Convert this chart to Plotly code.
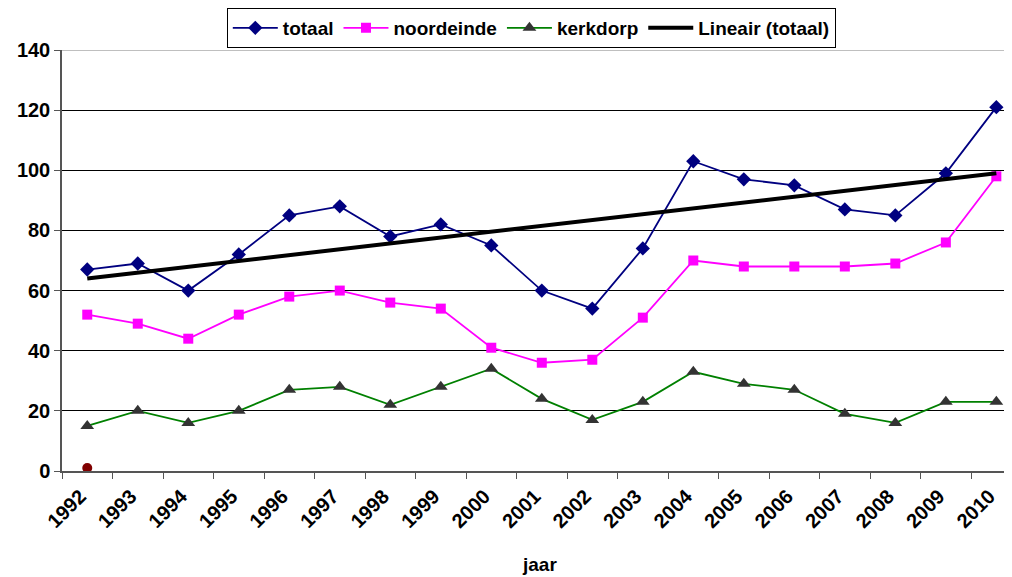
import plotly.graph_objects as go

years = [str(y) for y in range(1992, 2011)]
totaal = [67, 69, 60, 72, 85, 88, 78, 82, 75, 60, 54, 74, 103, 97, 95, 87, 85, 99, 121]
noordeinde = [52, 49, 44, 52, 58, 60, 56, 54, 41, 36, 37, 51, 70, 68, 68, 68, 69, 76, 98]
kerkdorp = [15, 20, 16, 20, 27, 28, 22, 28, 34, 24, 17, 23, 33, 29, 27, 19, 16, 23, 23]
trend_years = ["1992", "2010"]
trend_values = [64, 99]
extra_years = ["1992"]
extra_values = [1]

FONT = "Liberation Sans, Arial, sans-serif"

fig = go.Figure()
fig.add_trace(go.Scatter(x=years, y=totaal, name="<b>totaal</b>", mode="lines+markers",
                         line=dict(color="#000080", width=1.8),
                         marker=dict(symbol="diamond", size=11, color="#000080")))
fig.add_trace(go.Scatter(x=years, y=noordeinde, name="<b>noordeinde</b>", mode="lines+markers",
                         line=dict(color="#FF00FF", width=1.8),
                         marker=dict(symbol="square", size=10, color="#FF00FF")))
fig.add_trace(go.Scatter(x=years, y=kerkdorp, name="<b>kerkdorp</b>", mode="lines+markers",
                         line=dict(color="#008000", width=1.8),
                         marker=dict(symbol="triangle-up", size=12, color="#333333")))
fig.add_trace(go.Scatter(x=trend_years, y=trend_values, name="<b>Lineair (totaal)</b>", mode="lines",
                         line=dict(color="#000000", width=4)))
fig.add_trace(go.Scatter(x=extra_years, y=extra_values, mode="markers", showlegend=False,
                         marker=dict(symbol="circle", size=10, color="#800000")))

fig.update_layout(
    width=1004, height=569,
    margin=dict(l=54, r=0, t=42, b=106),
    paper_bgcolor="white", plot_bgcolor="white",
    font=dict(family=FONT, size=18, color="black"),
    legend=dict(orientation="h", x=0.494, xanchor="center", y=1.0, yref="container", yanchor="top",
                bordercolor="black", borderwidth=1, font=dict(family=FONT, size=19, color="black"),
                itemwidth=45, tracegroupgap=0),
    xaxis=dict(type="category", categoryorder="array", categoryarray=years,
               range=[-0.5, 18.31], tickson="boundaries", ticks="outside", ticklen=6,
               tickcolor="#555555", showline=True, linecolor="#555555", linewidth=1.5,
               showgrid=False, tickangle=-45, automargin=False,
               ticklabelshift=-7, ticklabelstandoff=4,
               tickfont=dict(family=FONT, size=20, color="black"),
               tickvals=years, ticktext=["<b>%s</b>" % y for y in years]),
    yaxis=dict(range=[0, 140], dtick=20, ticks="outside", ticklen=6, tickcolor="#555555",
               showline=True, linecolor="#555555", linewidth=1.5, automargin=False,
               showgrid=True, gridcolor="black", gridwidth=1, zeroline=False,
               tickfont=dict(family=FONT, size=20, color="black"),
               tickprefix="<b>", ticksuffix="</b>"),
)
fig.add_annotation(text="<b>jaar</b>", xref="paper", yref="paper", x=0.503, y=-0.223,
                   showarrow=False, font=dict(family=FONT, size=19, color="black"),
                   xanchor="center", yanchor="middle")
fig.add_shape(type="line", xref="paper", yref="y", x0=0, x1=1, y0=140, y1=140,
              line=dict(color="#aaaaaa", width=1.5))
fig.write_html("out.html")
